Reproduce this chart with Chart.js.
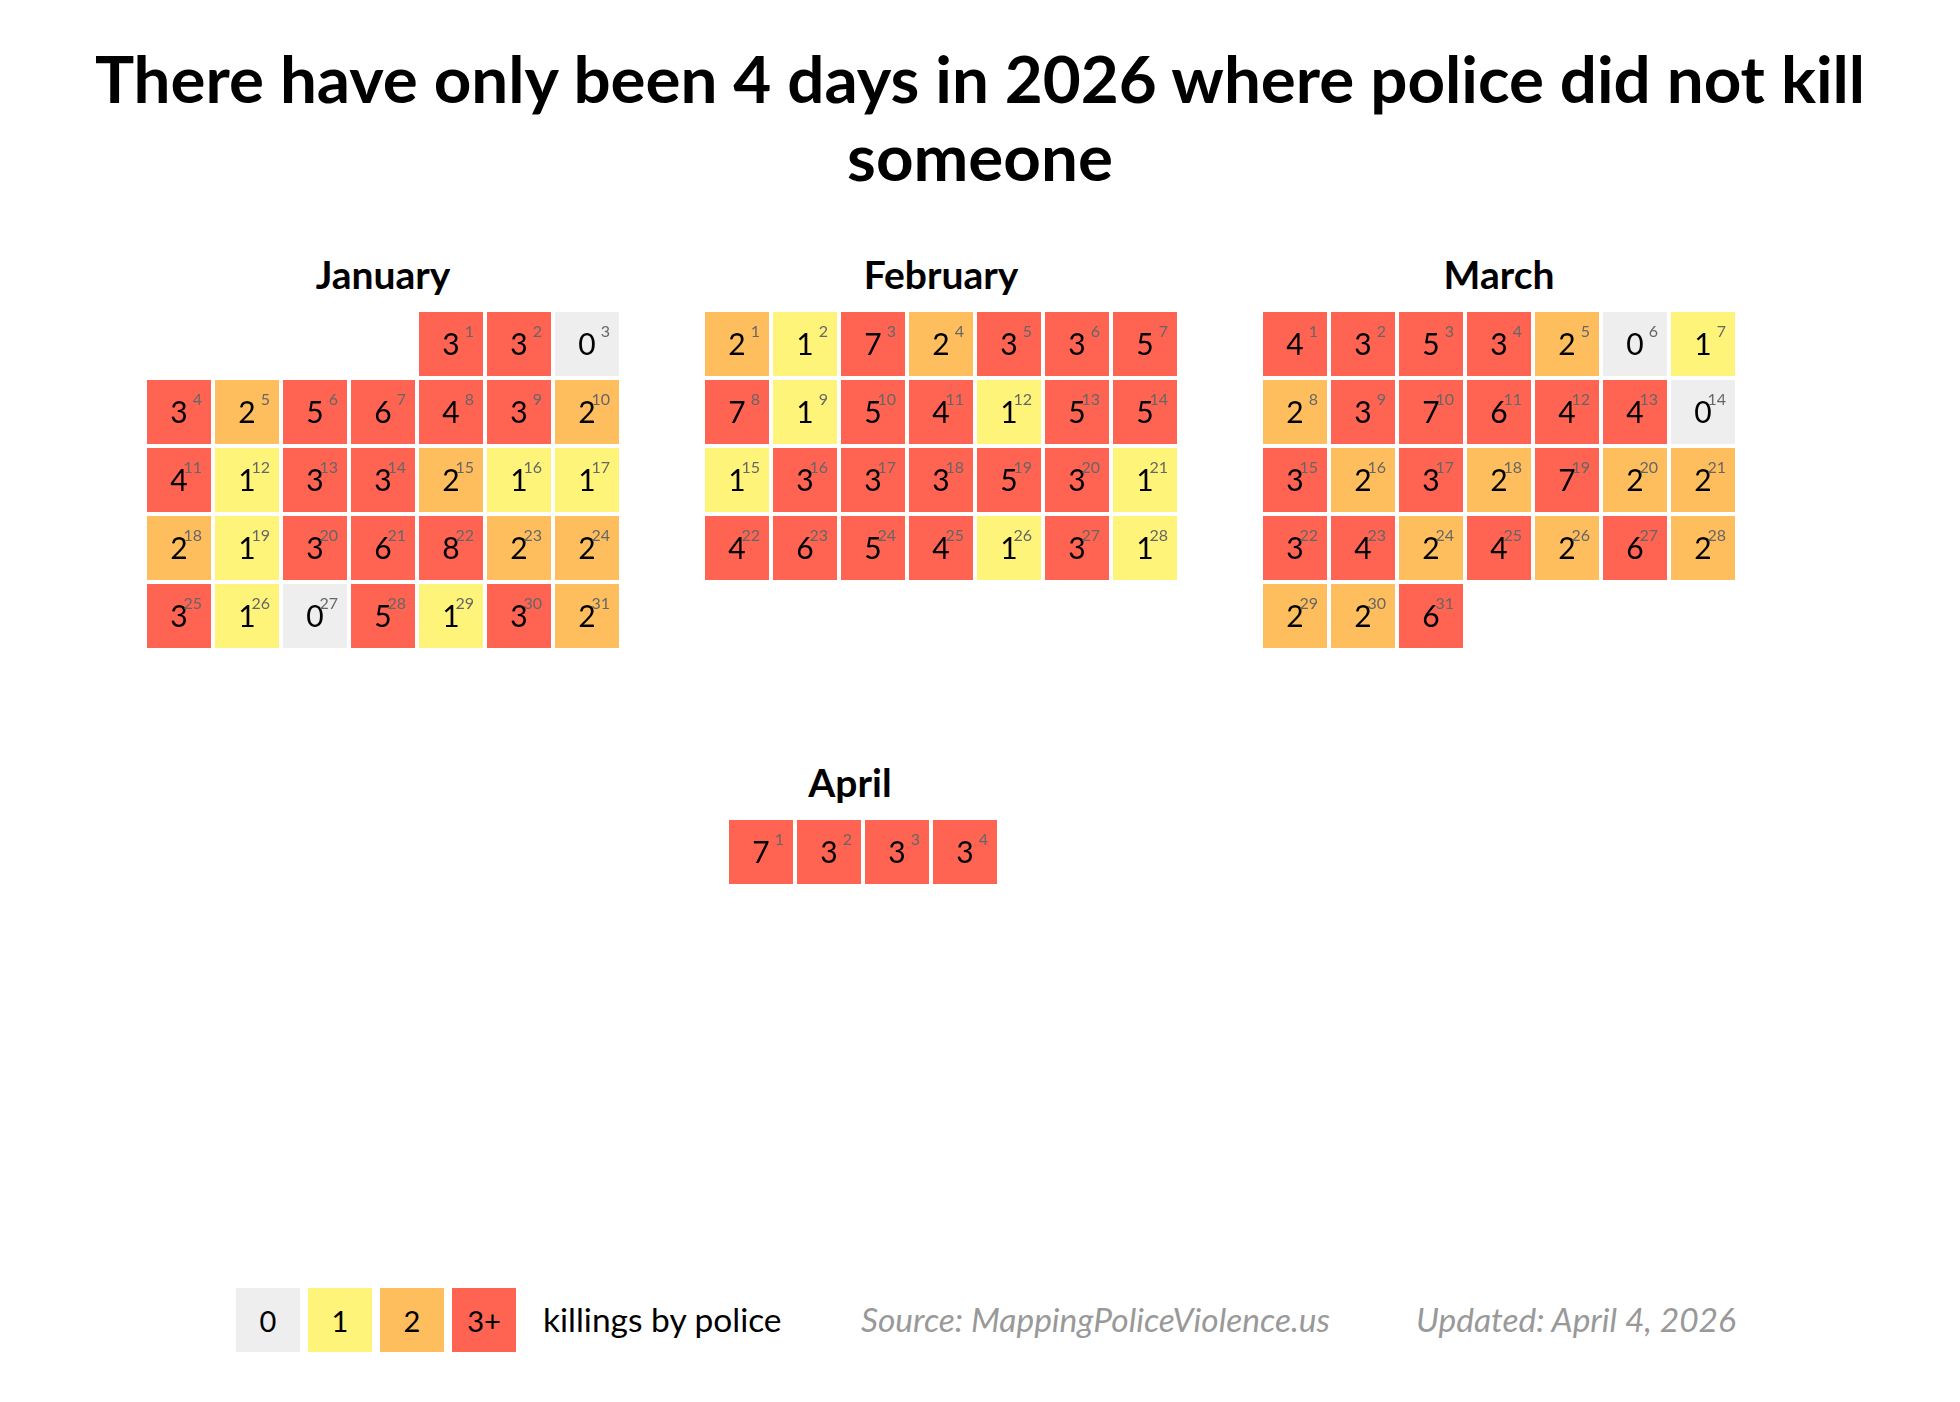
<!DOCTYPE html>
<html><head><meta charset="utf-8">
<script src="https://cdn.jsdelivr.net/npm/chart.js@4/dist/chart.umd.min.js"></script>
<style>
html,body{margin:0;padding:0;background:#fff;}
body{width:1960px;height:1402px;position:relative;overflow:hidden;font-family:Lato,"Noto Sans",sans-serif;color:#000;}
#title{position:absolute;left:0;width:1960px;top:39px;text-align:center;font-weight:700;font-size:65.5px;line-height:78px;}
.mt{position:absolute;width:400px;text-align:center;font-weight:700;font-size:39px;line-height:1.2;white-space:nowrap;}
canvas.cal{position:absolute;}
.lg{position:absolute;top:1288px;width:64px;height:64px;display:flex;align-items:center;justify-content:center;font-size:29px;}
.lt{position:absolute;font-size:33.5px;line-height:1.2;white-space:nowrap;}
.src{color:#999;font-style:italic;}
</style></head>
<body>
<div id="title">There have only been 4 days in 2026 where police did not kill<br>someone</div>
<div id="wrap"></div>
<script>
// ---- data ----
const months = ["January", "February", "March", "April"];
const monthStartWeekday = [4, 0, 0, 3];            // 0 = Sunday
const janCounts = [3,3,0, 3,2,5,6,4,3,2, 4,1,3,3,2,1,1, 2,1,3,6,8,2,2, 3,1,0,5,1,3,2];
const febCounts = [2,1,7,2,3,3,5, 7,1,5,4,1,5,5, 1,3,3,3,5,3,1, 4,6,5,4,1,3,1];
const marCounts = [4,3,5,3,2,0,1, 2,3,7,6,4,4,0, 3,2,3,2,7,2,2, 3,4,2,4,2,6,2, 2,2,6];
const aprCounts = [7,3,3,3];
const legendLabels = ["0", "1", "2", "3+"];
const legendText = "killings by police";
const sourceText = "Source: MappingPoliceViolence.us";
const updatedText = "Updated: April 4, 2026";
const colorScale = ["#eeeeee", "#fff47a", "#ffbe5e", "#ff6352"];

// ---- layout ----
const PITCH = 68, GAP = 4, CELL = PITCH - GAP;
const monthCounts = [janCounts, febCounts, marCounts, aprCounts];
const layout = [
  {left: 147,  top: 312, titleX: 383,  titleBase: 289},
  {left: 705,  top: 312, titleX: 941,  titleBase: 289},
  {left: 1263, top: 312, titleX: 1499, titleBase: 289},
  {left: 525,  top: 820, titleX: 850,  titleBase: 797}
];
function colorFor(v){ return colorScale[Math.min(v, 3)]; }

const cellLabels = {
  id: 'cellLabels',
  afterDatasetsDraw(chart){
    const ctx = chart.ctx;
    const meta = chart.getDatasetMeta(0);
    const xs = chart.scales.x;
    const half = (xs.getPixelForValue(1) - xs.getPixelForValue(0) - GAP) / 2;
    meta.data.forEach((el, i) => {
      const d = chart.data.datasets[0].data[i];
      ctx.save();
      ctx.fillStyle = '#000';
      ctx.font = '30px Lato, "Noto Sans", sans-serif';
      ctx.textAlign = 'center';
      ctx.textBaseline = 'alphabetic';
      ctx.fillText(String(d.v), el.x, el.y + 10.5);
      ctx.fillStyle = '#666';
      ctx.font = '16px Lato, "Noto Sans", sans-serif';
      ctx.textAlign = 'right';
      ctx.fillText(String(d.day), el.x + half - 9, el.y - half + 25);
      ctx.restore();
    });
  }
};

const wrap = document.getElementById('wrap');
months.forEach((name, m) => {
  const L = layout[m];
  const counts = monthCounts[m];
  const start = monthStartWeekday[m];
  const rows = Math.ceil((start + counts.length) / 7);
  const pts = counts.map((v, i) => ({x: (start + i) % 7, y: Math.floor((start + i) / 7), v: v, day: i + 1}));

  const t = document.createElement('div');
  t.className = 'mt';
  t.textContent = name;
  t.style.left = (L.titleX - 200) + 'px';
  t.style.top = (L.titleBase - 38.5) + 'px';
  wrap.appendChild(t);

  const cv = document.createElement('canvas');
  cv.className = 'cal';
  cv.width = 7 * PITCH; cv.height = rows * PITCH;
  cv.style.left = (L.left - GAP / 2) + 'px';
  cv.style.top = (L.top - GAP / 2) + 'px';
  wrap.appendChild(cv);

  new Chart(cv, {
    type: 'scatter',
    data: {datasets: [{
      data: pts,
      clip: false,
      pointStyle: 'rect',
      pointRadius: CELL / Math.SQRT2,
      pointHoverRadius: CELL / Math.SQRT2,
      pointBackgroundColor: c => colorFor(c.raw.v),
      pointBorderWidth: 0,
      pointHoverBorderWidth: 0
    }]},
    options: {
      responsive: false, animation: false, events: [],
      layout: {padding: 0, autoPadding: false},
      plugins: {legend: {display: false}, tooltip: {enabled: false}},
      scales: {
        x: {type: 'linear', min: -0.5, max: 6.5, display: false},
        y: {type: 'linear', min: -0.5, max: rows - 0.5, reverse: true, display: false}
      }
    },
    plugins: [cellLabels]
  });
});

// legend
legendLabels.forEach((lab, i) => {
  const b = document.createElement('div');
  b.className = 'lg';
  b.style.left = (236 + i * 72) + 'px';
  b.style.background = colorScale[i];
  b.textContent = lab;
  wrap.appendChild(b);
});
[[legendText, 543, false], [sourceText, 861, true], [updatedText, 1416, true]].forEach(([txt, x, src]) => {
  const d = document.createElement('div');
  d.className = 'lt' + (src ? ' src' : '');
  d.textContent = txt;
  d.style.left = x + 'px';
  d.style.top = (1332 - 33.1) + 'px';
  wrap.appendChild(d);
});
</script>
</body></html>
